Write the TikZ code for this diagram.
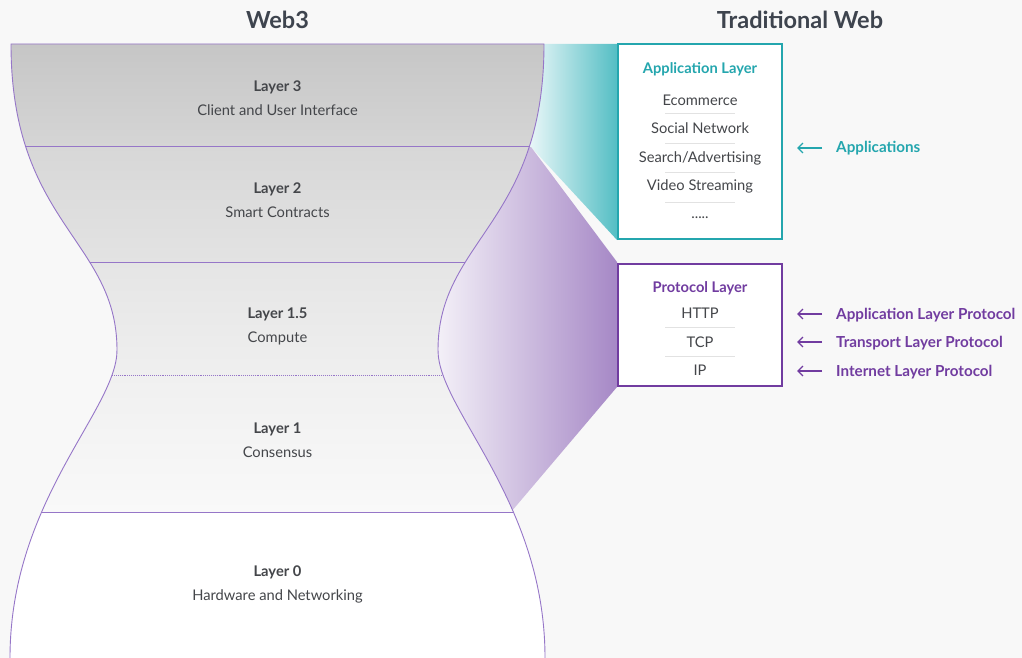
\documentclass[tikz,border=0pt]{standalone}
\usepackage{fontspec}
\setmainfont{Lato}
\usetikzlibrary{arrows.meta}
\definecolor{bgc}{RGB}{248,248,248}
\definecolor{tealc}{RGB}{36,166,174}
\definecolor{tealL}{RGB}{236,248,249}
\definecolor{tealR}{RGB}{84,190,196}
\definecolor{purc}{RGB}{113,60,160}
\definecolor{purL}{RGB}{244,241,248}
\definecolor{purR}{RGB}{166,136,198}
\definecolor{outl}{RGB}{150,118,200}
\definecolor{txt}{RGB}{68,70,74}
\definecolor{head}{RGB}{62,68,78}
\definecolor{sepc}{RGB}{226,226,226}
\tikzset{
  lbl/.style={anchor=base, inner sep=0pt, text=txt, font=\fontsize{14.7}{16}\selectfont},
  lblb/.style={lbl, font=\fontsize{14.7}{16}\selectfont\bfseries},
  hdr/.style={anchor=base, inner sep=0pt, text=head, font=\fontsize{23.5}{26}\selectfont\bfseries},
  boxapp/.style={draw=tealc, line width=2pt, fill=white, inner sep=0pt, minimum width=164, minimum height=195},
  boxpro/.style={draw=purc, line width=2pt, fill=white, inner sep=0pt, minimum width=164, minimum height=122},
  sepline/.style={draw=sepc, line width=1pt},
  divline/.style={draw=outl, line width=0.9pt},
  outline/.style={draw=outl, line width=0.9pt},
  tarr/.style={draw=tealc, line width=1.3pt, -{Straight Barb[length=5pt,width=10pt]}},
  parr/.style={draw=purc, line width=1.3pt, -{Straight Barb[length=5pt,width=10pt]}},
  tlab/.style={anchor=base west, inner sep=0pt, text=tealc, font=\fontsize{15.2}{17}\selectfont\bfseries},
  plab/.style={anchor=base west, inner sep=0pt, text=purc, font=\fontsize{15.2}{17}\selectfont\bfseries}
}
\begin{document}
\begin{tikzpicture}[x=1pt,y=-1pt]
\fill[bgc] (0,0) rectangle (1022,658);
\useasboundingbox (0,0) rectangle (1022,658);

% wedges
\path[left color=tealL, right color=tealR] (528,44) -- (617,44) -- (617,240) -- (531,147) -- (528,147) -- cycle;
\path[left color=purL, right color=purR] (436,147) -- (531,147) -- (617,262) -- (617,387) -- (511,512) -- (436,512) -- cycle;

% hourglass bands
\begin{scope}
\clip (11,44) .. controls (11,224) and (117,240) .. (117,350) .. controls (117,410) and (10,500) .. (10,658) -- (10,670) -- (545,670) -- (545,658) .. controls (545,500) and (438,410) .. (438,350) .. controls (438,240) and (544,224) .. (544,44) -- cycle;
\shade[top color={rgb,255:red,198;green,198;blue,198}, bottom color={rgb,255:red,213;green,213;blue,213}] (0,44) rectangle (560,146);
\shade[top color={rgb,255:red,215;green,215;blue,215}, bottom color={rgb,255:red,227;green,227;blue,227}] (0,146) rectangle (560,262);
\shade[top color={rgb,255:red,229;green,229;blue,229}, bottom color={rgb,255:red,239;green,239;blue,239}] (0,262) rectangle (560,375);
\shade[top color={rgb,255:red,240;green,240;blue,240}, bottom color={rgb,255:red,249;green,249;blue,249}] (0,375) rectangle (560,512);
\fill[white] (0,512) rectangle (560,670);
\draw[divline] (0,146) -- (560,146);
\draw[divline] (0,262) -- (560,262);
\draw[divline, densely dotted, line width=0.6pt] (0,375) -- (560,375);
\draw[divline] (0,512) -- (560,512);
\end{scope}
\draw[outline] (11,44) .. controls (11,224) and (117,240) .. (117,350) .. controls (117,410) and (10,500) .. (10,658) -- (10,670) -- (545,670) -- (545,658) .. controls (545,500) and (438,410) .. (438,350) .. controls (438,240) and (544,224) .. (544,44) -- cycle;

% headers
\node[hdr] (hweb3) at (277.5,29) {Web3};
\node[hdr] (htrad) at (800,29) {Traditional Web};

% layer labels
\node[lblb] (l3) at (277.5,92) {Layer 3};
\node[lbl] (l3d) at (277.5,116) {Client and User Interface};
\node[lblb] (l2) at (277.5,193) {Layer 2};
\node[lbl] (l2d) at (277.5,217) {Smart Contracts};
\node[lblb] (l15) at (277.5,318) {Layer 1.5};
\node[lbl] (l15d) at (277.5,342) {Compute};
\node[lblb] (l1) at (277.5,433) {Layer 1};
\node[lbl] (l1d) at (277.5,457) {Consensus};
\node[lblb] (l0) at (277.5,576) {Layer 0};
\node[lbl] (l0d) at (277.5,600) {Hardware and Networking};

% application box
\node[boxapp] (appbox) at (700,141.5) {};
\node[lblb, text=tealc] (apptitle) at (700,74) {Application Layer};
\node[lbl] (a1) at (700,106) {Ecommerce};
\node[lbl] (a2) at (700,134) {Social Network};
\node[lbl] (a3) at (700,162) {Search/Advertising};
\node[lbl] (a4) at (700,190) {Video Streaming};
\node[lbl] (a5) at (700,218) {.....};
\draw[sepline] (665,114) -- (735,114);
\draw[sepline] (665,143) -- (735,143);
\draw[sepline] (665,172) -- (735,172);
\draw[sepline] (665,202) -- (735,202);

% protocol box
\node[boxpro] (probox) at (700,325) {};
\node[lblb, text=purc] (protitle) at (700,292) {Protocol Layer};
\node[lbl] (p1) at (700,318) {HTTP};
\node[lbl] (p2) at (700,347) {TCP};
\node[lbl] (p3) at (700,375) {IP};
\draw[sepline] (665,327) -- (735,327);
\draw[sepline] (665,356) -- (735,356);

% right labels and arrows
\node[tlab] (rapp) at (836,153) {Applications};
\node[plab] (rhttp) at (836,319) {Application Layer Protocol};
\node[plab] (rtcp) at (836,347) {Transport Layer Protocol};
\node[plab] (rip) at (836,376) {Internet Layer Protocol};
\coordinate (s1) at (822,148); \coordinate (e1) at (797,148);
\coordinate (s2) at (822,314); \coordinate (e2) at (797,314);
\coordinate (s3) at (822,342); \coordinate (e3) at (797,342);
\coordinate (s4) at (822,371); \coordinate (e4) at (797,371);
\draw[tarr] (s1) -- (e1);
\draw[parr] (s2) -- (e2);
\draw[parr] (s3) -- (e3);
\draw[parr] (s4) -- (e4);
\end{tikzpicture}
\end{document}
